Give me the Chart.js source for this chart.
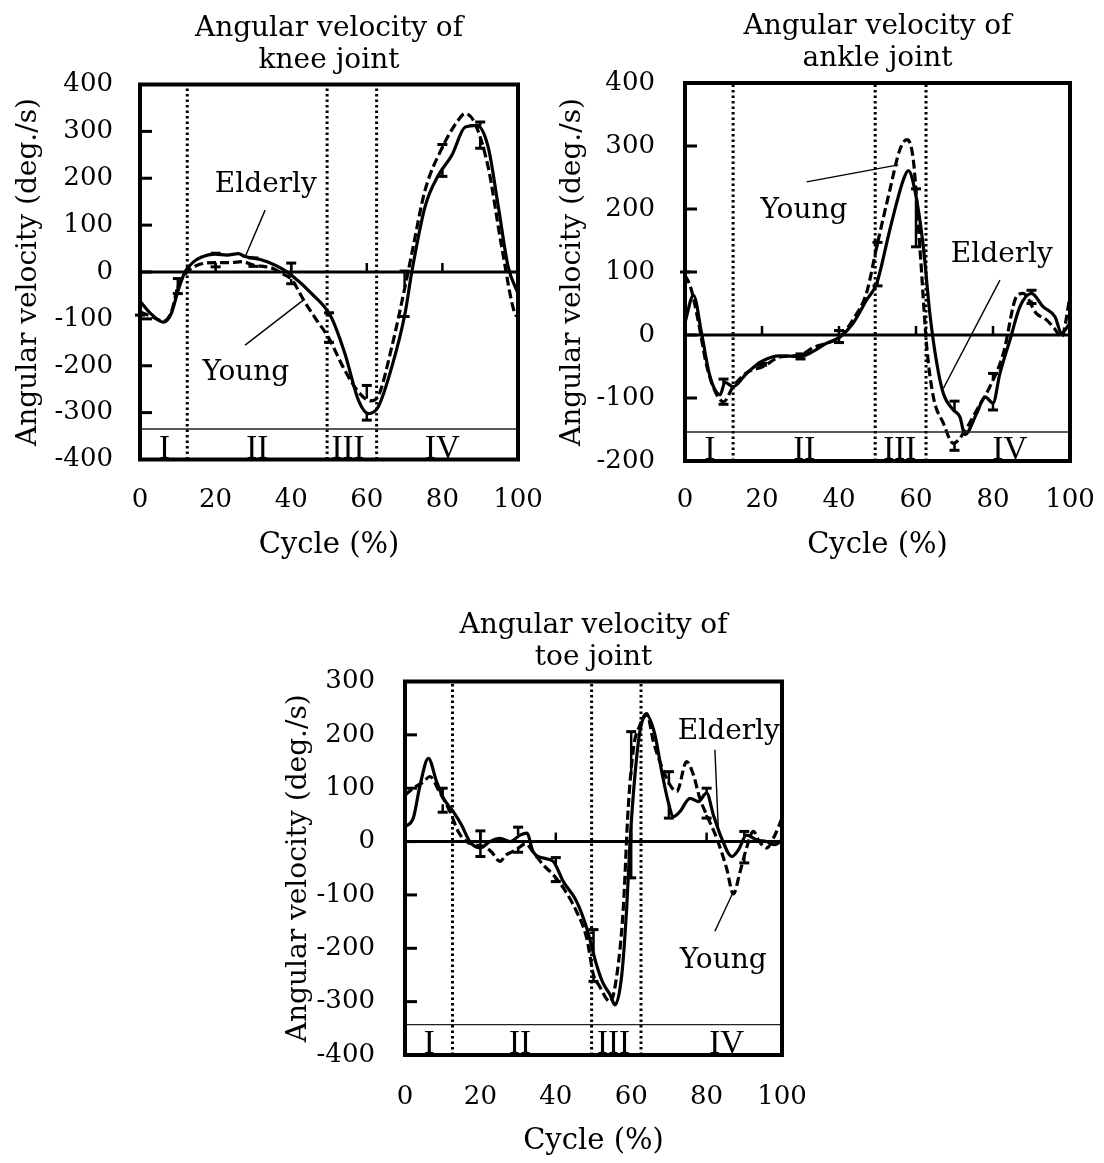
<!DOCTYPE html>
<html>
<head>
<meta charset="utf-8">
<script src="https://cdn.jsdelivr.net/npm/chart.js@4.4.0/dist/chart.umd.min.js"></script>
<style>
  body { margin: 0; background: #fff; }
  #wrap { position: relative; width: 1104px; height: 1163px; }
  canvas { position: absolute; }
</style>
</head>
<body>
<div id="wrap">
  <canvas id="knee" width="552" height="580" style="left:0;top:0"></canvas>
  <canvas id="ankle" width="552" height="580" style="left:552px;top:0"></canvas>
  <canvas id="toe" width="552" height="563" style="left:270px;top:600px"></canvas>
</div>
<script>
/* global Chart */
const SERIF = "'DejaVu Serif', serif"
const ROMAN = "'Liberation Serif', serif"

// shared
const xTicks = [0, 20, 40, 60, 80, 100]
const phaseNames = ['I', 'II', 'III', 'IV']

// knee joint
const kneeTicks = [-400, -300, -200, -100, 0, 100, 200, 300, 400]
const kneePhases = [12.5, 49.5, 62.6]
const kneePhaseLine = -335
const kneeElderlyX = [0, 3, 6.2, 8.3, 10.1, 11.9, 14.1, 16.3, 19.8, 23, 26, 27.8, 31, 34, 37.5, 40.1, 45.4, 50.5, 54.2, 57.8, 60.4, 63, 66.6, 70.1, 71.9, 75.4, 78.9, 82.5, 86, 89.1, 92.1, 94.8, 97.4, 100]
const kneeElderlyY = [-62, -90, -107, -88, -39, 0, 21, 32, 38, 36, 39, 33, 28, 21, 7, -7, -46, -95, -174, -274, -302, -288, -203, -89, 0, 139, 206, 249, 309, 313, 267, 139, 11, -46]
const kneeYoungX = [0, 3, 6.2, 8.3, 10.1, 12.5, 15, 20, 24, 27, 30, 35, 38, 40, 43.6, 46.5, 49.8, 54.2, 57.8, 61, 63, 66.6, 70.1, 71.9, 75.4, 79.8, 84.2, 86, 88.6, 92.1, 95.7, 99.2, 100]
const kneeYoungY = [-85, -95, -105, -85, -30, 0, 14, 20, 20, 22, 15, 8, -5, -15, -64, -100, -139, -210, -256, -275, -265, -160, -32, 39, 174, 263, 324, 338, 317, 224, 53, -89, -95]
const kneeElderlyBarX = [10, 20, 30, 40, 50, 60, 70, 80, 90]
const kneeElderlyBarFrom = [-39, 38, 28, -7, -95, -300, -89, 219, 312]
const kneeElderlyBarTo = [-14, 40, 30, 19, -87, -316, -95, 204, 320]
const kneeYoungBarX = [0, 10, 20, 30, 40, 50, 60, 70, 80, 90]
const kneeYoungBarFrom = [-85, -30, 20, 15, -15, -139, -270, -32, 263, 285]
const kneeYoungBarTo = [-92, -46, 11, 12, -25, -150, -242, 2, 272, 264]

// ankle joint
const ankleTicks = [-200, -100, 0, 100, 200, 300, 400]
const anklePhases = [12.5, 49.4, 62.6]
const anklePhaseLine = -154
const ankleElderlyX = [0, 2.2, 4.3, 6.1, 7.4, 9.1, 10.4, 12.5, 16, 19.9, 24.7, 29.9, 33.3, 36.8, 40.3, 43.7, 47.2, 49.8, 53.2, 56.7, 58, 59.7, 61.9, 63.6, 65.4, 67.1, 69.7, 71.4, 72.7, 75.8, 77.9, 80, 81.8, 84.4, 87, 90, 93, 96.1, 97.8, 100]
const ankleElderlyY = [20, 63, 3, -56, -82, -95, -75, -82, -61, -42, -33, -34, -26, -13, -3, 19, 56, 82, 167, 246, 261, 230, 140, 34, -45, -93, -119, -130, -158, -124, -98, -108, -61, -8, 45, 66, 45, 29, 3, 19]
const ankleYoungX = [0, 1.5, 3.5, 5.5, 7.5, 10, 12.5, 16, 20.3, 24.7, 29.9, 33.3, 36.8, 40.3, 43.7, 47.2, 49.8, 53.2, 55.8, 57.6, 59.3, 61, 62.8, 64.5, 67.1, 69.7, 72.3, 75.8, 79.2, 82.7, 86.1, 87.8, 91.3, 93.9, 96, 97.8, 100]
const ankleYoungY = [95, 75, 20, -45, -85, -106, -82, -60, -50, -35, -32, -20, -13, -3, 25, 68, 140, 230, 294, 310, 278, 140, -19, -98, -140, -172, -156, -119, -82, -29, 61, 66, 34, 24, 10, -3, 61]
const ankleElderlyBarX = [10, 20, 30, 40, 50, 60, 70, 80, 90]
const ankleElderlyBarFrom = [-78, -42, -34, -3, 85, 225, -120, -108, 66]
const ankleElderlyBarTo = [-70, -48, -38, 7, 78, 232, -105, -119, 71]
const ankleYoungBarX = [0, 10, 20, 30, 40, 50, 60, 70, 80, 90]
const ankleYoungBarFrom = [95, -106, -50, -32, -3, 140, 215, -172, -70, 55]
const ankleYoungBarTo = [100, -110, -45, -30, -12, 147, 140, -183, -61, 50]

// toe joint
const toeTicks = [-400, -300, -200, -100, 0, 100, 200, 300]
const toePhases = [12.6, 49.5, 62.6]
const toePhaseLine = -343
const toeElderlyX = [0, 2.2, 4, 6.2, 8.4, 10.2, 12.8, 15, 17.2, 19.9, 22.5, 25.2, 27.9, 30.5, 32.3, 34, 36.7, 39.3, 42, 45.5, 48.2, 50.8, 52.5, 54.4, 55.7, 57.5, 58.8, 59.7, 61, 62.3, 64.1, 66.3, 68.1, 69.8, 71.2, 72.9, 75.6, 77.8, 80, 81.8, 84, 86.7, 88.4, 90.6, 93.3, 95.9, 98.1, 100]
const toeElderlyY = [28, 44, 106, 156, 112, 81, 56, 31, 0, -12, 0, 6, 0, 12, 16, -19, -31, -37, -75, -112, -162, -231, -265, -287, -306, -250, -125, 0, 125, 206, 237, 200, 131, 75, 47, 56, 81, 75, 91, 50, 6, -28, -16, 12, 3, 0, -6, 3]
const toeYoungX = [0, 2.2, 4.9, 6.6, 9, 12, 14.1, 16.3, 18.6, 21.2, 22.9, 25.2, 26.8, 29.4, 32, 34, 36.7, 39.3, 42, 45.5, 48.2, 50, 51.5, 54.4, 56.2, 57.9, 59.2, 60.6, 62.3, 64.1, 65.9, 67.6, 70.3, 72.1, 74.7, 76.5, 78.2, 80, 82.7, 85.3, 87.1, 88.9, 90.6, 92.4, 94, 95.9, 98.1, 100]
const toeYoungY = [87, 100, 112, 122, 95, 55, 19, 0, -6, -10, -19, -37, -25, -16, -4, -20, -44, -62, -87, -131, -181, -250, -270, -300, -250, -125, 62, 175, 218, 240, 187, 150, 106, 94, 150, 125, 81, 50, 6, -50, -98, -56, -12, 19, 0, -12, 12, 44]
const toeElderlyBarX = [10, 20, 30, 40, 50, 60, 70, 80, 90]
const toeElderlyBarFrom = [81, -12, 12, -47, -210, 30, 72, 91, 8]
const toeElderlyBarTo = [100, -28, 27, -30, -165, -68, 44, 100, 19]
const toeYoungBarX = [10, 20, 30, 40, 50, 60, 70, 80, 90]
const toeYoungBarFrom = [70, -8, -14, -68, -250, 125, 106, 50, -28]
const toeYoungBarTo = [55, 20, -20, -75, -262, 206, 131, 44, -40]

const pts = (xs, ys) => xs.map((x, i) => ({ x, y: ys[i] }))

const panels = [
  {
    id: 'knee', title: ['Angular velocity of', 'knee joint'], ticks: kneeTicks,
    phases: kneePhases, phaseLine: kneePhaseLine,
    elderly: pts(kneeElderlyX, kneeElderlyY), young: pts(kneeYoungX, kneeYoungY),
    bars: [[kneeElderlyBarX, kneeElderlyBarFrom, kneeElderlyBarTo], [kneeYoungBarX, kneeYoungBarFrom, kneeYoungBarTo]],
    romanAt: [6.5, 31, 55, 80],
    notes: [['Elderly', 33.3, 187, 33.1, 132, 27.8, 32], ['Young', 28, -215, 27.8, -156, 43.2, -60]],
    geo: { pad: { left: 0, right: 34, top: 12.5, bottom: 10.5 }, yw: 140, xh: 110, yPad: 27, ytPad: 12, xPad: 25.5, xtPad: 6.5 }
  },
  {
    id: 'ankle', title: ['Angular velocity of', 'ankle joint'], ticks: ankleTicks,
    phases: anklePhases, phaseLine: anklePhaseLine,
    elderly: pts(ankleElderlyX, ankleElderlyY), young: pts(ankleYoungX, ankleYoungY),
    bars: [[ankleElderlyBarX, ankleElderlyBarFrom, ankleElderlyBarTo], [ankleYoungBarX, ankleYoungBarFrom, ankleYoungBarTo]],
    romanAt: [6.5, 31, 55.8, 84.4],
    notes: [['Young', 30.9, 197, 31.6, 243, 55.4, 270], ['Elderly', 82.3, 127, 81.8, 87, 67.1, -85]],
    geo: { pad: { left: 0, right: 34, top: 11, bottom: 9 }, yw: 133, xh: 110, yPad: 30, ytPad: 3.5, xPad: 24, xtPad: 8 }
  },
  {
    id: 'toe', title: ['Angular velocity of', 'toe joint'], ticks: toeTicks,
    phases: toePhases, phaseLine: toePhaseLine,
    elderly: pts(toeElderlyX, toeElderlyY), young: pts(toeYoungX, toeYoungY),
    bars: [[toeElderlyBarX, toeElderlyBarFrom, toeElderlyBarTo], [toeYoungBarX, toeYoungBarFrom, toeYoungBarTo]],
    romanAt: [6.4, 30.5, 55.3, 85.3],
    notes: [['Elderly', 85.9, 205, 82.2, 172, 83.1, 25], ['Young', 84.4, -223, 82.2, -168, 87.1, -94]],
    geo: { pad: { left: 0, right: 40, top: 9.5, bottom: 3 }, yw: 135, xh: 105, yPad: 30, ytPad: 12, xPad: 27, xtPad: 1 }
  }
]

// frame, inward ticks, error bars, phase numerals and call-outs
function decor(p) {
  return {
    id: 'decor',
    afterDatasetsDraw(chart) {
      const { ctx, chartArea: a, scales: { x, y } } = chart
      ctx.save()
      ctx.strokeStyle = '#000'
      ctx.fillStyle = '#000'
      ctx.lineCap = 'butt'

      p.bars.forEach(([bx, from, to]) => {
        bx.forEach((v, i) => {
          const px = x.getPixelForValue(v)
          const p0 = y.getPixelForValue(from[i])
          const p1 = y.getPixelForValue(to[i])
          ctx.lineWidth = 2.5
          ctx.beginPath(); ctx.moveTo(px, p0); ctx.lineTo(px, p1); ctx.stroke()
          ctx.lineWidth = 3
          ctx.beginPath(); ctx.moveTo(px - 5, p1); ctx.lineTo(px + 5, p1); ctx.stroke()
        })
      })

      // ticks sitting on the zero line
      const y0 = y.getPixelForValue(0)
      ctx.lineWidth = 2.5
      xTicks.slice(1, -1).forEach(v => {
        const px = x.getPixelForValue(v)
        ctx.beginPath(); ctx.moveTo(px, y0); ctx.lineTo(px, y0 - 9); ctx.stroke()
      })
      // inward y ticks
      ctx.lineWidth = 3
      p.ticks.slice(1, -1).forEach(v => {
        const py = y.getPixelForValue(v)
        ctx.beginPath(); ctx.moveTo(a.left, py); ctx.lineTo(a.left + 12, py); ctx.stroke()
      })

      ctx.lineWidth = 4
      ctx.strokeRect(a.left, a.top, a.right - a.left, a.bottom - a.top)

      ctx.font = '33px ' + ROMAN
      ctx.textAlign = 'center'
      ctx.textBaseline = 'alphabetic'
      phaseNames.forEach((t, i) => {
        ctx.fillText(t, x.getPixelForValue(p.romanAt[i]), a.bottom - 2)
      })

      ctx.font = '28px ' + SERIF
      ctx.textBaseline = 'middle'
      ctx.lineWidth = 1.4
      p.notes.forEach(([t, tx, ty, x1, y1, x2, y2]) => {
        ctx.fillText(t, x.getPixelForValue(tx), y.getPixelForValue(ty))
        ctx.beginPath()
        ctx.moveTo(x.getPixelForValue(x1), y.getPixelForValue(y1))
        ctx.lineTo(x.getPixelForValue(x2), y.getPixelForValue(y2))
        ctx.stroke()
      })
      ctx.restore()
    }
  }
}

panels.forEach(p => {
  const g = p.geo
  const yMin = p.ticks[0]
  const yMax = p.ticks[p.ticks.length - 1]
  const guides = p.phases.map(b => ({
    data: [{ x: b, y: yMin }, { x: b, y: yMax }],
    borderColor: '#000', borderWidth: 3, borderDash: [2.5, 3], pointRadius: 0
  }))
  new Chart(document.getElementById(p.id), {
    type: 'line',
    data: {
      datasets: [
        ...guides,
        { data: [{ x: 0, y: p.phaseLine }, { x: 100, y: p.phaseLine }], borderColor: '#222', borderWidth: 1.4, pointRadius: 0 },
        { data: [{ x: 0, y: 0 }, { x: 100, y: 0 }], borderColor: '#000', borderWidth: 3, pointRadius: 0 },
        { label: 'Young', data: p.young, borderColor: '#000', borderWidth: 3.2, borderDash: [9, 4], pointRadius: 0, cubicInterpolationMode: 'monotone' },
        { label: 'Elderly', data: p.elderly, borderColor: '#000', borderWidth: 3.2, pointRadius: 0, cubicInterpolationMode: 'monotone' }
      ]
    },
    options: {
      responsive: false,
      devicePixelRatio: 1,
      animation: false,
      events: [],
      layout: { padding: g.pad },
      plugins: {
        legend: { display: false },
        tooltip: { enabled: false },
        title: {
          display: true, fullSize: false, text: p.title, color: '#000',
          font: { family: SERIF, size: 28, weight: 'normal', lineHeight: 32 / 28 },
          padding: { top: 0, bottom: 8 }
        }
      },
      scales: {
        x: {
          type: 'linear', min: 0, max: 100,
          afterBuildTicks: s => { s.ticks = xTicks.map(v => ({ value: v })) },
          afterFit: s => { s.height = g.xh; s.paddingLeft = 0; s.paddingRight = 0 },
          ticks: { color: '#000', font: { family: SERIF, size: 26 }, padding: g.xPad, maxRotation: 0, autoSkip: false },
          grid: { display: false, drawTicks: false },
          border: { display: false },
          title: { display: true, text: 'Cycle (%)', color: '#000', font: { family: SERIF, size: 29 }, padding: { top: 0, bottom: g.xtPad } }
        },
        y: {
          type: 'linear', min: yMin, max: yMax,
          afterBuildTicks: s => { s.ticks = p.ticks.map(v => ({ value: v })) },
          afterFit: s => { s.width = g.yw; s.paddingTop = 0; s.paddingBottom = 0 },
          ticks: { color: '#000', font: { family: SERIF, size: 26 }, padding: g.yPad, autoSkip: false, callback: v => String(v) },
          grid: { display: false, drawTicks: false },
          border: { display: false },
          title: { display: true, text: 'Angular velocity (deg./s)', color: '#000', font: { family: SERIF, size: 28 }, padding: { top: g.ytPad, bottom: 0 } }
        }
      }
    },
    plugins: [decor(p)]
  })
})
</script>
</body>
</html>
